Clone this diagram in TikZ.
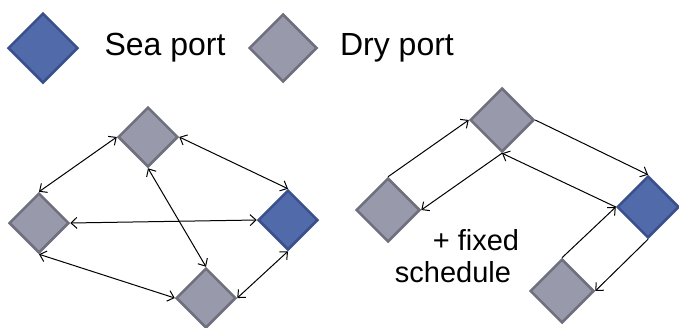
\documentclass[tikz,border=0pt]{standalone}
\usepackage{fontspec}
\setmainfont{Liberation Sans}
\usetikzlibrary{shapes.geometric,arrows.meta}
\definecolor{seablue}{RGB}{80,106,170}
\definecolor{seaedge}{RGB}{58,80,140}
\definecolor{drygray}{RGB}{152,153,170}
\definecolor{dryedge}{RGB}{110,112,125}
\tikzset{
  port/.style={diamond, aspect=1, inner sep=0pt, minimum size=60pt, line width=2.5pt},
  seaport/.style={port, fill=seablue, draw=seaedge},
  dryport/.style={port, fill=drygray, draw=dryedge},
  tip/.tip={Straight Barb[length=6pt,width=11pt,line width=1pt]},
  link/.style={line width=1pt, tip-tip},
  oneway/.style={line width=1pt, -tip},
  legendtext/.style={font=\fontsize{32}{36}\selectfont},
  notetext/.style={font=\fontsize{29}{32}\selectfont},
}
\begin{document}
\begin{tikzpicture}[x=1pt, y=-1pt]
	\useasboundingbox (0,0) rectangle (679,327);
	% legend
	\node[seaport, minimum size=70pt] (sealeg) at (43,48) {};
	\node[legendtext] (seatxt) at (165,48) {Sea port};
	\node[dryport, minimum size=68pt] (dryleg) at (283,48) {};
	\node[legendtext] (drytxt) at (397,48) {Dry port};
	% left: free network
	\node[dryport] (ltop) at (148,137) {};
	\node[dryport] (lleft) at (39,223) {};
	\node[seaport] (lsea) at (288,220) {};
	\node[dryport] (lbot) at (206,298) {};
	\draw[link] (ltop.west) -- (lleft.north);
	\draw[link] (ltop.east) -- (lsea.north);
	\draw[link] (lleft.east) -- (lsea.west);
	\draw[link] (ltop.south) -- (lbot.north);
	\draw[link] (lleft.south) -- (lbot.west);
	\draw[link] (lsea.south) -- (lbot.east);
	% right: fixed route
	\node[dryport, minimum size=64pt] (rtop) at (502,120) {};
	\node[dryport, minimum size=64pt] (rleft) at (388,210) {};
	\node[seaport, minimum size=62pt] (rsea) at (648,207) {};
	\node[dryport, minimum size=64pt] (rbot) at (562,291) {};
	\draw[oneway] (rleft.north) -- (rtop.west);
	\draw[oneway] (rtop.south) -- (rleft.east);
	\draw[oneway] (rtop.east) -- (rsea.north);
	\draw[oneway] (rsea.west) -- (rtop.south);
	\draw[oneway] (rbot.north) -- (rsea.west);
	\draw[oneway] (rsea.south) -- (rbot.east);
	\node[notetext] (note1) at (476,240) {+ fixed};
	\node[notetext] (note2) at (453,272) {schedule};
\end{tikzpicture}
\end{document}
